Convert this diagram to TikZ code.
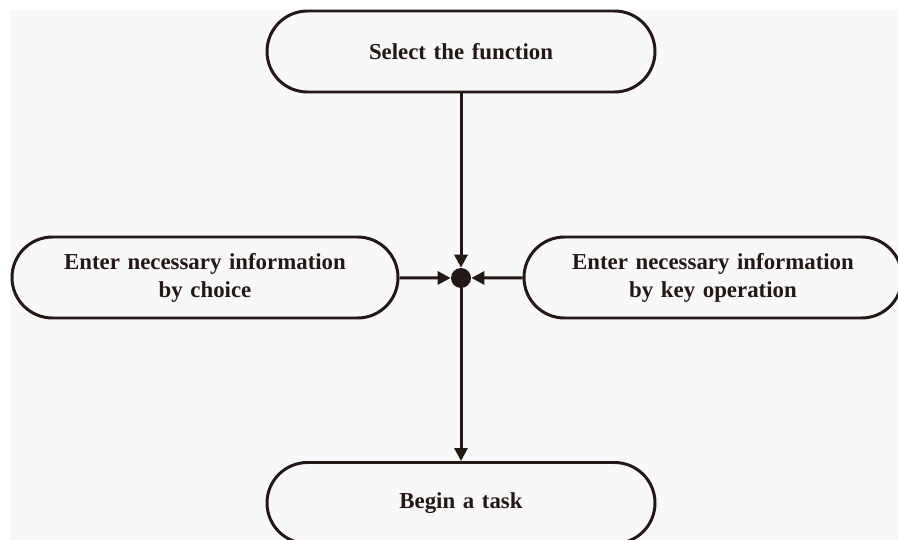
\documentclass[tikz,border=0pt]{standalone}
\usepackage{fontspec}
\setmainfont{Liberation Serif}
\usepackage{tikz}
\usetikzlibrary{calc,arrows.meta}
\definecolor{trait}{HTML}{231815}
\definecolor{fond}{HTML}{F8F8F8}
\tikzstyle{etape} = [rectangle, draw=trait, line width=1.7pt, rounded corners=0.81cm, minimum height=1.62cm, minimum width=7.76cm, text width=7cm, text centered, font=\fontsize{13}{16}\selectfont\bfseries, text=trait]
\tikzstyle{fleche} = [line width=1.7pt, draw=trait, -{Triangle[length=0.26cm,width=0.26cm]}]

\begin{document}
\begin{tikzpicture}
    \clip (0,0) rectangle (17.96,-10.8);
    \fill[fond] (0.2,-0.2) rectangle (17.96,-10.8);

    \node (fonction) [etape] at (9.22,-1.03) {Select the function};
    \node (choix) [etape, minimum width=7.72cm] at (4.1,-5.55) {Enter necessary information\\ by choice};
    \node (touche) [etape, minimum width=7.56cm] at (14.26,-5.55) {Enter necessary information\\ by key operation};
    \node (tache) [etape] at (9.22,-10.06) {Begin a task};

    \node (point) [circle, fill=trait, inner sep=0pt, minimum size=0.4cm] at (9.22,-5.56) {};

    \draw[fleche] (fonction) -- (point);
    \draw[fleche] (choix) -- (point);
    \draw[fleche] (touche) -- (point);
    \draw[fleche] (point) -- (tache);
\end{tikzpicture}
\end{document}
